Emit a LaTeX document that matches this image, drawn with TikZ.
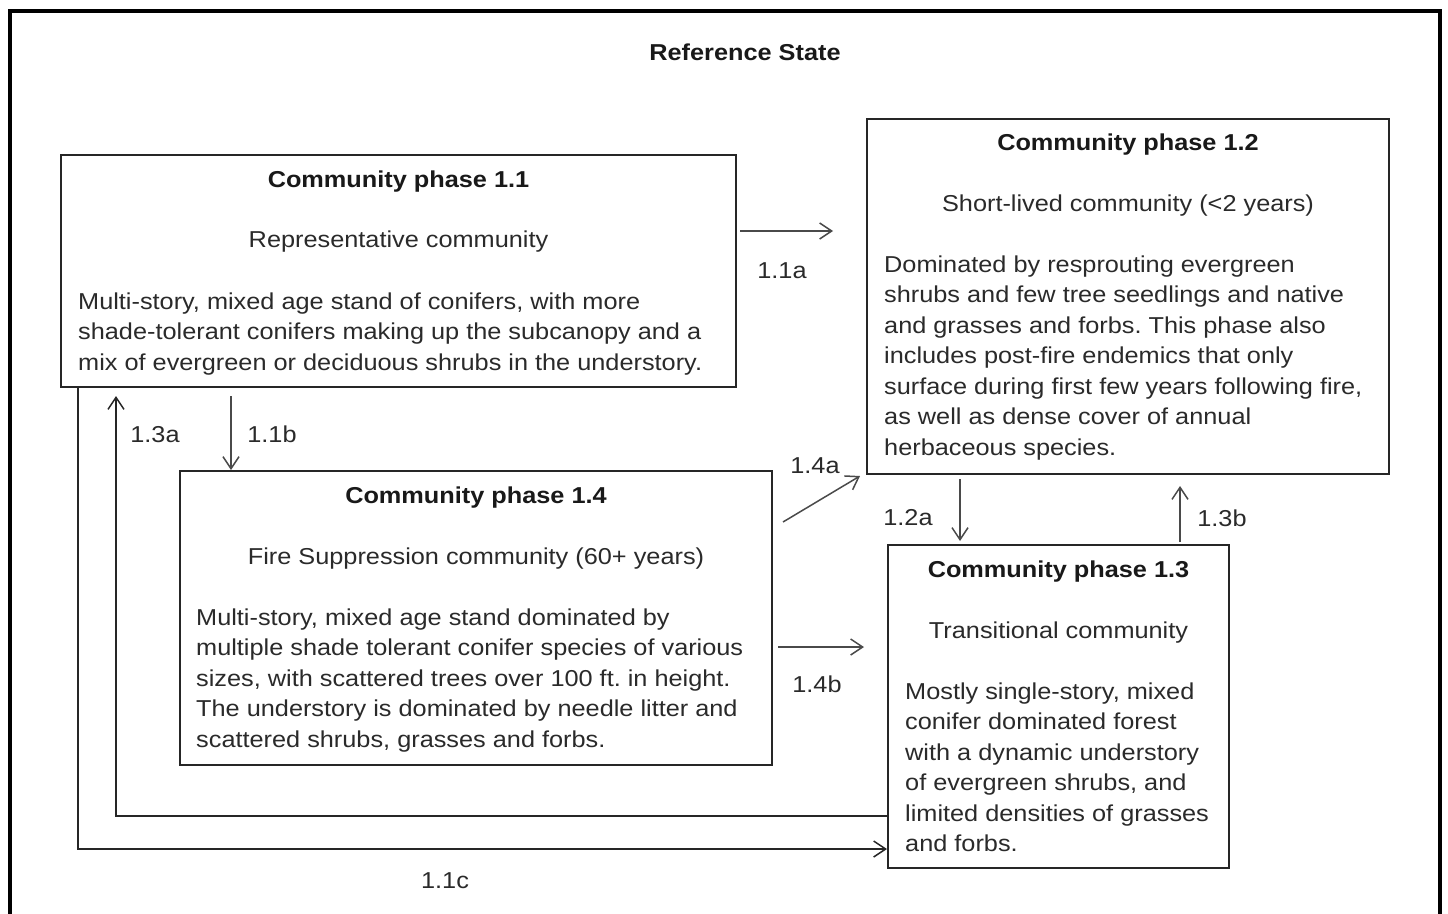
\documentclass[tikz,border=0pt]{standalone}
\usepackage{fontspec}
\setmainfont{Liberation Sans}[FakeStretch=1.1]
\usetikzlibrary{arrows.meta}
\definecolor{boxline}{HTML}{262626}
\definecolor{arrline}{HTML}{4A4A4A}
\definecolor{txt}{HTML}{2A2A2A}
\frenchspacing
\begin{document}
\frenchspacing
\begin{tikzpicture}[x=1pt,y=-1pt,
  box/.style={draw=boxline, line width=2pt, rectangle, inner sep=0pt, fill=white},
  ttl/.style={font=\fontsize{23}{30.5}\selectfont\bfseries, text=black!90, inner sep=0pt, anchor=base},
  sub/.style={font=\fontsize{23}{30.5}\selectfont, text=txt, inner sep=0pt, anchor=base},
  body/.style={font=\fontsize{23}{30.5}\selectfont\frenchspacing, text=txt, inner sep=0pt, anchor=base west},
  lbl/.style={font=\fontsize{23}{30.5}\selectfont, text=txt, inner sep=0pt, anchor=base},
  arr/.style={draw=arrline, line width=1.5pt, -{Straight Barb[length=12pt,width=16pt,line width=1.5pt]}},
  conn/.style={draw=boxline, line width=2pt}
]
\useasboundingbox (0,0) rectangle (1448,913);
\fill[white] (0,0) rectangle (1448,913);
\draw[line width=4pt, black] (10,11) rectangle (1440,940);

\node[ttl] (ref) at (745,60) {Reference State};

% boxes
\node[box, minimum width=675pt, minimum height=232pt] (b11) at (398.5,271) {};
\node[box, minimum width=522pt, minimum height=355pt] (b12) at (1128,296.5) {};
\node[box, minimum width=592pt, minimum height=294pt] (b14) at (476,618) {};
\node[box, minimum width=341pt, minimum height=323pt] (b13) at (1058.5,706.5) {};

% box 1.1 texts
\node[ttl] (t11) at (398.5,187) {Community phase 1.1};
\node[sub] (s11) at (398.5,247) {Representative community};
\node[body] (d11) at (78,309) {\begin{tabular}[t]{@{}l@{}}Multi-story, mixed age stand of conifers, with more\\shade-tolerant conifers making up the subcanopy and a\\mix of evergreen or deciduous shrubs in the understory.\end{tabular}};

% box 1.2 texts
\node[ttl] (t12) at (1128,150) {Community phase 1.2};
\node[sub] (s12) at (1128,211) {Short-lived community (<2 years)};
\node[body] (d12) at (884,272) {\begin{tabular}[t]{@{}l@{}}Dominated by resprouting evergreen\\shrubs and few tree seedlings and native\\and grasses and forbs. This phase also\\includes post-fire endemics that only\\surface during first few years following fire,\\as well as dense cover of annual\\herbaceous species.\end{tabular}};

% box 1.4 texts
\node[ttl] (t14) at (476,503) {Community phase 1.4};
\node[sub] (s14) at (476,564) {Fire Suppression community (60+ years)};
\node[body] (d14) at (196,625) {\begin{tabular}[t]{@{}l@{}}Multi-story, mixed age stand dominated by\\multiple shade tolerant conifer species of various\\sizes, with scattered trees over 100 ft. in height.\\The understory is dominated by needle litter and\\scattered shrubs, grasses and forbs.\end{tabular}};

% box 1.3 texts
\node[ttl] (t13) at (1058.5,577) {Community phase 1.3};
\node[sub] (s13) at (1058.5,638) {Transitional community};
\node[body] (d13) at (905,699) {\begin{tabular}[t]{@{}l@{}}Mostly single-story, mixed\\conifer dominated forest\\with a dynamic understory\\of evergreen shrubs, and\\limited densities of grasses\\and forbs.\end{tabular}};

% free ends of connectors
\coordinate (a11s) at (740,231);
\coordinate (a11e) at (833,231);
\coordinate (a11bs) at (231,396);
\coordinate (a11be) at (231,470);
\coordinate (a14as) at (783,522);
\coordinate (a14ae) at (860,476);
\coordinate (a14bs) at (778,647);
\coordinate (a14be) at (864,647);
\coordinate (a12as) at (960,479);
\coordinate (a12ae) at (960,541);
\coordinate (a13bs) at (1180,542);
\coordinate (a13be) at (1180,486);
\coordinate (a13ae) at (116,396);

% connectors
\draw[arr] (a11s) -- (a11e);
\draw[arr] (a11bs) -- (a11be);
\draw[arr] (a14as) -- (a14ae);
\draw[arr] (a14bs) -- (a14be);
\draw[arr] (a12as) -- (a12ae);
\draw[arr] (a13bs) -- (a13be);
\draw[conn, -{Straight Barb[length=12pt,width=16pt,line width=1.5pt]}] (b13.west |- 0,816) -| (a13ae);
\draw[conn, -{Straight Barb[length=12pt,width=16pt,line width=1.5pt]}] (b11.south -| 78,0) |- (b13.west |- 0,849);

% labels
\node[lbl] (l11a) at (782,278) {1.1a};
\node[lbl] (l11b) at (272,442) {1.1b};
\node[lbl] (l13a) at (155,442) {1.3a};
\node[lbl] (l11c) at (445,888) {1.1c};
\node[lbl] (l14a) at (815,473) {1.4a};
\node[lbl] (l14b) at (817,692) {1.4b};
\node[lbl] (l12a) at (908,525) {1.2a};
\node[lbl] (l13b) at (1222,526) {1.3b};
\end{tikzpicture}
\end{document}
